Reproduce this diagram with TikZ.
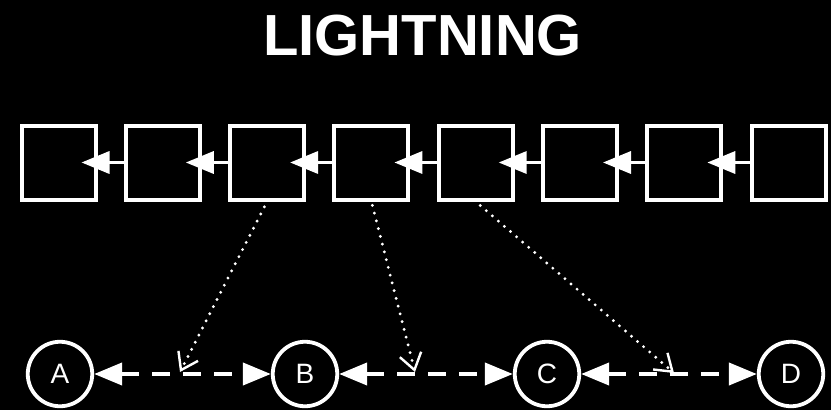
\documentclass[tikz,border=0pt]{standalone}
\usepackage{fontspec}
\setmainfont{Liberation Sans}
\usetikzlibrary{arrows.meta,calc}

\tikzset{
  block/.style={draw=white, line width=4pt, minimum size=74pt, inner sep=0pt, fill=black},
  peer/.style={draw=white, line width=3.8pt, circle, minimum size=64.5pt, inner sep=0pt,
               text=white, font=\fontsize{28}{30}\selectfont},
  chainlink/.style={draw=white, line width=3.5pt, -{Triangle[length=28pt,width=22pt]}},
  channel/.style={draw=white, line width=4pt, dash pattern=on 18pt off 13pt,
                  {Triangle[length=28pt,width=22pt]}-{Triangle[length=28pt,width=22pt]}},
  anchorline/.style={draw=white, line width=3.2pt, line cap=round,
                     dash pattern=on 0pt off 8pt},
  anchortip/.style={draw=white, line width=2.4pt, solid,
                    -{Straight Barb[length=16pt,width=22pt,line width=2.4pt]}},
}

\begin{document}
\begin{tikzpicture}[x=1pt, y=-1pt]
  % canvas
  \path[fill=black] (0,0) rectangle (831,410);

  % title
  \node[anchor=base, text=white, font=\fontsize{58}{60}\selectfont\bfseries]
    (title) at (422.5,55) {LIGHTNING};

  % blockchain
  \foreach \i in {1,...,8} {
    \node[block] (b\i) at ({58.5+104.3*(\i-1)},162.5) {};
  }
  \foreach \i [evaluate=\i as \j using int(\i+1)] in {1,...,7} {
    \draw[chainlink] (b\j.west) -- ([xshift=-16pt]b\i.east);
  }

  % payment channel nodes
  \node[peer] (A) at (60,374) {A};
  \node[peer] (B) at (305,374) {B};
  \node[peer] (C) at (547,374) {C};
  \node[peer] (D) at (791,374) {D};

  \draw[channel] (A) -- (B);
  \draw[channel] (B) -- (C);
  \draw[channel] (C) -- (D);

  % channels anchored on-chain: dotted line plus a solid barb at the end
  \coordinate (t1) at (180,372);
  \coordinate (t2) at (415,372);
  \coordinate (t3) at (674,373);
  \draw[anchorline, shorten <=6pt, shorten >=6pt] (b3.south) -- (t1);
  \draw[anchorline, shorten <=4pt, shorten >=6pt] (b4.south) -- (t2);
  \draw[anchorline, shorten <=6pt, shorten >=6pt] (b5.south) -- (t3);
  \draw[anchortip] ($(t1)!3pt!(b3.south)$) -- (t1);
  \draw[anchortip] ($(t2)!3pt!(b4.south)$) -- (t2);
  \draw[anchortip] ($(t3)!3pt!(b5.south)$) -- (t3);
\end{tikzpicture}
\end{document}
